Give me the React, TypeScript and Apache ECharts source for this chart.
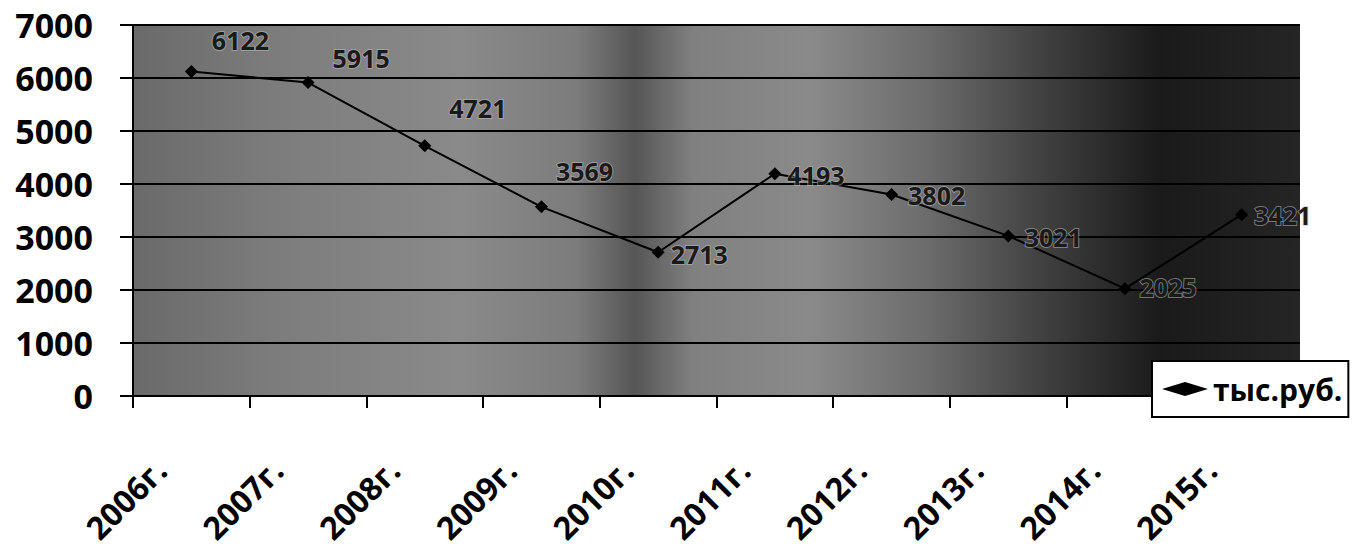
import React, { useEffect, useRef } from "react";
import * as echarts from "echarts";

const categories = ["2006г.", "2007г.", "2008г.", "2009г.", "2010г.", "2011г.", "2012г.", "2013г.", "2014г.", "2015г."];
const values = [6122, 5915, 4721, 3569, 2713, 4193, 3802, 3021, 2025, 3421];
const seriesName = "тыс.руб.";
const yMin = 0;
const yMax = 7000;
const yInterval = 1000;

const labelOffsets: [number, number][] = [
  [8, -32], [12, -25], [12, -38], [2, -36], [0, 2],
  [0, 1], [4, 1], [4, 1], [2, -2], [0, 0],
];

const FONT = "'Open Sans', 'Noto Sans', sans-serif";

export default function App() {
  const ref = useRef<HTMLDivElement>(null);
  useEffect(() => {
    if (!ref.current) return;
    const chart = echarts.init(ref.current, undefined, { renderer: "svg" });
    chart.setOption({
      animation: false,
      backgroundColor: "#ffffff",
      grid: {
        left: 133,
        right: 52,
        top: 25,
        bottom: 155,
        show: true,
        borderWidth: 0,
        backgroundColor: new echarts.graphic.LinearGradient(0, 0, 1, 0, [
          { offset: 0, color: "#6a6a6a" },
          { offset: 0.12, color: "#7c7c7c" },
          { offset: 0.28, color: "#8a8a8a" },
          { offset: 0.38, color: "#7c7c7c" },
          { offset: 0.43, color: "#565656" },
          { offset: 0.48, color: "#808080" },
          { offset: 0.58, color: "#8a8a8a" },
          { offset: 0.68, color: "#6c6c6c" },
          { offset: 0.78, color: "#404040" },
          { offset: 0.88, color: "#1a1a1a" },
          { offset: 1, color: "#252525" },
        ]),
      },
      legend: {
        show: true,
        left: 1152,
        top: 361,
        orient: "horizontal",
        backgroundColor: "#ffffff",
        borderColor: "#000000",
        borderWidth: 2,
        borderRadius: 0,
        padding: [13, 6, 13, 10],
        itemWidth: 46,
        itemHeight: 14,
        itemGap: 6,
        textStyle: { fontFamily: FONT, fontWeight: "bold", fontSize: 30, color: "#000000" },
        data: [{ name: seriesName, icon: "diamond" }],
      },
      xAxis: {
        type: "category",
        data: categories,
        boundaryGap: true,
        axisLine: { show: true, lineStyle: { color: "#000000", width: 2 } },
        axisTick: { show: true, length: 12, lineStyle: { color: "#000000", width: 2 } },
        axisLabel: {
          rotate: 45,
          margin: 37,
          padding: [0, 44, 0, 0],
          fontFamily: FONT,
          fontWeight: "bold",
          fontSize: 32,
          color: "#000000",
        },
        splitLine: { show: false },
      },
      yAxis: {
        type: "value",
        min: yMin,
        max: yMax,
        interval: yInterval,
        axisLine: { show: true, lineStyle: { color: "#000000", width: 2 } },
        axisTick: { show: true, length: 13, lineStyle: { color: "#000000", width: 2 } },
        axisLabel: {
          margin: 40,
          fontFamily: FONT,
          fontWeight: "bold",
          fontSize: 34,
          color: "#000000",
          formatter: (v: number) => String(v),
        },
        splitLine: { show: true, lineStyle: { color: "#000000", width: 2 } },
      },
      series: [
        {
          name: seriesName,
          type: "line",
          data: values.map((v, i) => ({
            value: v,
            label: { offset: labelOffsets[i] },
          })),
          symbol: "diamond",
          symbolSize: 13,
          itemStyle: { color: "#000000" },
          lineStyle: { color: "#000000", width: 2 },
          label: {
            show: true,
            position: "right",
            distance: 6,
            fontFamily: FONT,
            fontWeight: "bold",
            fontSize: 25,
            color: "#1a1a1a",
            textBorderColor: "rgba(190,190,190,0.55)",
            textBorderWidth: 2,
          },
        },
      ],
    });
    return () => chart.dispose();
  }, []);
  return (
    <div
      ref={ref}
      style={{ position: "absolute", left: 0, top: 0, width: 1352, height: 551, overflow: "hidden" }}
    />
  );
}
